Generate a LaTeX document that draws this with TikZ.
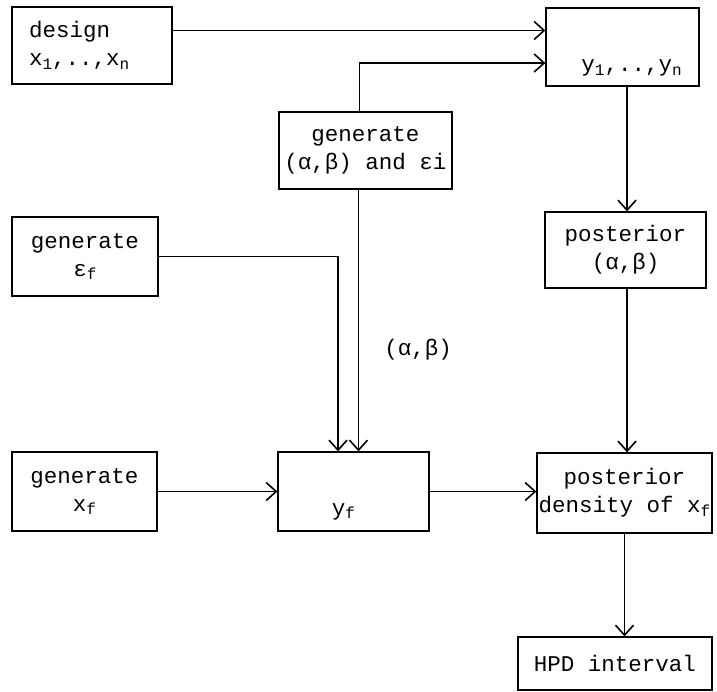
\documentclass[tikz,border=0pt]{standalone}
\usepackage{fontspec}
\setmainfont{Liberation Mono}
\usetikzlibrary{arrows.meta}
\newcommand{\idx}[1]{\raisebox{-0.3ex}{\fontsize{16}{16}\selectfont #1}}
\begin{document}
\begin{tikzpicture}[x=1pt, y=-1pt,
    every node/.style={font=\fontsize{22.5}{28}\selectfont, inner sep=0pt},
    block/.style={draw, line width=1.3pt, rectangle, align=center},
    arr/.style={line width=1.6pt, -{Straight Barb[length=10pt, width=18pt, line width=1.6pt]}}]
\useasboundingbox (0,0) rectangle (717,691);

\node [block, minimum width=160pt, minimum height=77pt, text width=126pt, align=left] (design) at (92,45.5) {design\\x\idx{1},..,x\idx{n}};
\node [block, minimum width=153pt, minimum height=78pt, label={[xshift=9pt, yshift=-21pt]center:y\idx{1},..,y\idx{n}}] (ybox) at (622.5,47) {};
\node [block, minimum width=173pt, minimum height=77pt] (genab) at (365.5,150.5) {generate\\(α,β) and εi};
\node [block, minimum width=146pt, minimum height=79pt] (genef) at (85,256.5) {generate\\ε\idx{f}};
\node [block, minimum width=161pt, minimum height=76pt] (postab) at (625.5,250) {posterior\\(α,β)};
\node [block, minimum width=145pt, minimum height=79pt] (genxf) at (84.5,491.5) {generate\\x\idx{f}};
\node [block, minimum width=151pt, minimum height=79pt, label={[xshift=-10pt, yshift=-20pt]center:y\idx{f}}] (yf) at (353.5,491.5) {};
\node [block, minimum width=175pt, minimum height=80pt] (postd) at (624.5,493) {posterior\\density of x\idx{f}};
\node [block, minimum width=194pt, minimum height=53pt] (hpd) at (615,663.5) {HPD interval};

% data to observations
\draw [arr] ([yshift=15pt]design.east) -- ([yshift=15pt]design.east -| ybox.west);
\draw [arr] ([xshift=-6pt]genab.north) |- ([yshift=-16pt]ybox.west);
% inputs of y_f
\draw [arr] (genef.east) -| ([xshift=-15.5pt]yf.north);
\draw [arr] ([xshift=-7pt]genab.south) -- node [right=25pt, pos=0.61] (ablabel) {(α,β)} ([xshift=-7pt]genab.south |- yf.north);
\draw [arr] (genxf.east) -- (yf.west);
% posterior chain
\draw [arr] ([xshift=4.5pt]ybox.south) -- ([xshift=4.5pt]ybox.south |- postab.north);
\draw [arr] ([xshift=1.5pt]postab.south) -- ([xshift=1.5pt]postab.south |- postd.north);
\draw [arr] (yf.east) -- (yf.east -| postd.west);
\draw [arr] (postd.south) -- (postd.south |- hpd.north);

\end{tikzpicture}
\end{document}
